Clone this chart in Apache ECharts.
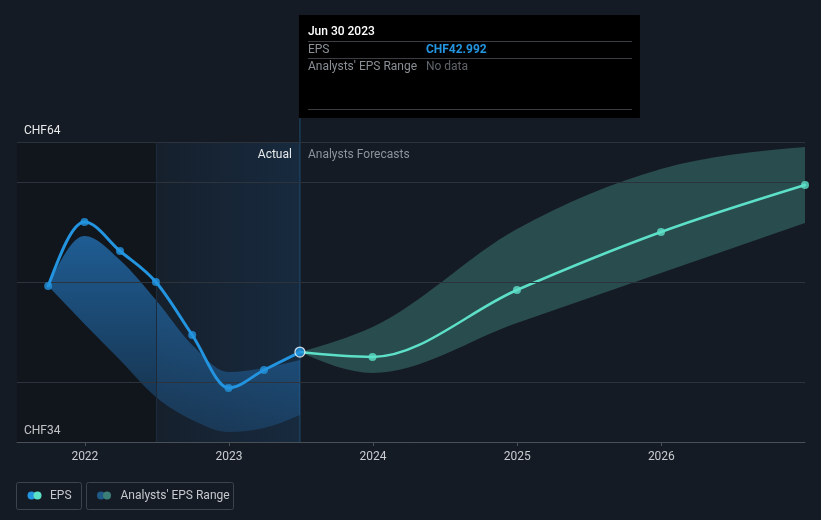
<!DOCTYPE html>
<html>
<head>
<meta charset="utf-8">
<script src="https://cdn.jsdelivr.net/npm/echarts@6/dist/echarts.min.js"></script>
<style>
html,body{margin:0;padding:0;background:#151b24;}
#c{width:821px;height:520px;}
</style>
</head>
<body>
<div id="c"></div>
<script>
// ---- data ----
const pastDates = ['2021-09-30','2021-12-31','2022-03-31','2022-06-30','2022-09-30','2022-12-31','2023-03-31','2023-06-30'];
const pastEPS   = [49.6, 56.0, 53.1, 50.0, 44.7, 39.4, 41.2, 42.992];
const pastUpper = [49.6, 54.6, 52.2, 48.2, 43.7, 41.0, 41.4, 42.2];
const pastLower = [49.6, 45.8, 42.2, 38.5, 36.2, 35.0, 35.4, 36.7];

const fcDates = ['2023-06-30','2023-12-31','2024-12-31','2025-12-31','2026-12-31'];
const fcEPS   = [42.992, 42.5, 49.2, 55.0, 59.7];
const fcUpper = [42.992, 45.5, 55.3, 61.3, 63.5];
const fcLower = [42.992, 40.9, 45.9, 50.9, 55.9];

const yearTicks = ['2022-01-01','2023-01-01','2024-01-01','2025-01-01','2026-01-01'];
const yLabelValues = [34, 64];
const yGridValues = [40, 50, 60, 64];

const axisMin = '2021-07-13';
const axisMax = '2026-12-31';
const pastStart = '2022-06-30';
const nowDate = '2023-06-30';

// ---- helpers ----
const t = s => { const p = s.split('-').map(Number); return Date.UTC(p[0], p[1]-1, p[2]); };
const pairs = (d, v) => d.map((x, i) => [t(x), v[i]]);

// monotone-x cubic segments in pixel space
function monoSegs(p) {
  const n = p.length, h = [], s = [], tg = new Array(n);
  for (let i = 0; i < n - 1; i++) { h[i] = p[i+1][0] - p[i][0]; s[i] = (p[i+1][1] - p[i][1]) / h[i]; }
  for (let i = 1; i < n - 1; i++) {
    const s0 = s[i-1], s1 = s[i], h0 = h[i-1], h1 = h[i];
    const q = (s0 * h1 + s1 * h0) / (h0 + h1);
    tg[i] = (Math.sign(s0) + Math.sign(s1)) * Math.min(Math.abs(s0), Math.abs(s1), 0.5 * Math.abs(q)) || 0;
  }
  if (n > 2) {
    tg[0] = (3 * s[0] - tg[1]) / 2;
    tg[n-1] = (3 * s[n-2] - tg[n-2]) / 2;
  } else { tg[0] = tg[n-1] = s[0]; }
  const segs = [];
  for (let i = 0; i < n - 1; i++) {
    const d = h[i] / 3;
    segs.push([[p[i][0] + d, p[i][1] + d * tg[i]], [p[i+1][0] - d, p[i+1][1] - d * tg[i+1]], p[i+1]]);
  }
  return segs;
}
function bandPath(up, lo) {
  let d = 'M' + up[0][0] + ',' + up[0][1];
  monoSegs(up).forEach(g => { d += 'C' + g[0] + ' ' + g[1] + ' ' + g[2]; });
  d += 'L' + lo[lo.length-1][0] + ',' + lo[lo.length-1][1];
  const ls = monoSegs(lo);
  for (let i = ls.length - 1; i >= 0; i--) {
    const end = i === 0 ? lo[0] : ls[i-1][2];
    d += 'C' + ls[i][1] + ' ' + ls[i][0] + ' ' + end;
  }
  return d + 'Z';
}
function linePath(pts) {
  let d = 'M' + pts[0][0] + ',' + pts[0][1];
  monoSegs(pts).forEach(g => { d += 'C' + g[0] + ' ' + g[1] + ' ' + g[2]; });
  return d;
}
function bandSeries(dates, upper, lower, fill) {
  return {
    type: 'custom', silent: true, z: 2, data: [[t(dates[0]), upper[0]]],
    renderItem: (params, api) => {
      const up = dates.map((x, i) => api.coord([t(x), upper[i]]));
      const lo = dates.map((x, i) => api.coord([t(x), lower[i]]));
      return {type: 'path', shape: {pathData: bandPath(up, lo)}, style: {fill: fill}};
    }
  };
}
function lineSeries(dates, vals, color, z, w) {
  return {
    type: 'custom', silent: true, z: z, data: [[t(dates[0]), vals[0]]],
    renderItem: (params, api) => {
      const pts = dates.map((x, i) => api.coord([t(x), vals[i]]));
      return {type: 'path', shape: {pathData: linePath(pts)},
        style: {fill: 'none', stroke: color, lineWidth: w, lineJoin: 'round', lineCap: 'round'}};
    }
  };
}

const BLUE = '#2394df', MINT = '#5de0c8';
const chart = echarts.init(document.getElementById('c'), null, {renderer: 'canvas'});

const epsPast = pairs(pastDates, pastEPS).map((d, i) => i === pastDates.length - 1
  ? {value: d, symbolSize: 10, itemStyle: {color: BLUE, borderColor: '#ffffff', borderWidth: 1.2}} : d);
const epsFc = pairs(fcDates, fcEPS).slice(1);

chart.setOption({
  animation: false,
  backgroundColor: '#151b24',
  textStyle: {fontFamily: 'Roboto'},
  grid: {left: 17, right: 16, top: 142, bottom: 78},
  xAxis: {
    type: 'value', min: t(axisMin), max: t(axisMax),
    axisLine: {show: true, lineStyle: {color: '#4a5058', width: 1}},
    axisTick: {show: true, customValues: yearTicks.map(t), length: 4, lineStyle: {color: '#4a5058'}},
    axisLabel: {customValues: yearTicks.map(t), color: '#c9ccd1', fontSize: 12, margin: 9,
      formatter: v => String(new Date(v).getUTCFullYear())},
    splitLine: {show: false}
  },
  yAxis: {
    type: 'value', min: 34, max: 64,
    axisLine: {show: false}, axisTick: {show: false}, splitLine: {show: false},
    axisLabel: {customValues: yLabelValues, inside: true, formatter: 'CHF{value}', color: '#e8eaec',
      fontSize: 12, verticalAlign: 'bottom', margin: 7, padding: [0,0,5,0]}
  },
  series: [
    {
      type: 'line', data: [], z: 0, silent: true,
      markArea: {silent: true, data: [
        [{xAxis: t(axisMin), itemStyle: {color: 'rgba(0,0,0,0.17)'}}, {xAxis: t(pastStart)}],
        [{xAxis: t(pastStart), itemStyle: {color: {type: 'linear', x: 0, y: 0, x2: 1, y2: 0,
          colorStops: [{offset: 0, color: 'rgba(35,120,200,0.05)'}, {offset: 1, color: 'rgba(35,120,200,0.16)'}]}}},
         {xAxis: t(nowDate)}]
      ]},
      markLine: {silent: true, symbol: 'none', label: {show: false},
        lineStyle: {color: '#2d333c', width: 1, type: 'solid'},
        data: yGridValues.map(v => ({yAxis: v})).concat([{xAxis: t(pastStart), lineStyle: {color: '#1d2a3a'}}])}
    },
    bandSeries(pastDates, pastUpper, pastLower, {type: 'linear', x: 0, y: 0, x2: 0, y2: 1, global: false,
      colorStops: [{offset: 0, color: 'rgba(38,130,210,0.65)'}, {offset: 1, color: 'rgba(38,130,210,0.22)'}]}),
    bandSeries(fcDates, fcUpper, fcLower, 'rgba(100,215,200,0.26)'),
    lineSeries(fcDates, fcEPS, MINT, 4, 2.5),
    lineSeries(pastDates, pastEPS, BLUE, 5, 3),
    {type: 'scatter', name: 'EPS forecast', data: epsFc, z: 6, symbol: 'circle', symbolSize: 8,
      itemStyle: {color: MINT}},
    {type: 'scatter', name: 'EPS', data: epsPast, z: 7, symbol: 'circle', symbolSize: 8,
      itemStyle: {color: BLUE}}
  ]
});

// ---- overlays placed from the axes ----
const nowX = chart.convertToPixel({xAxisIndex: 0}, t(nowDate));
const topY = chart.convertToPixel({yAxisIndex: 0}, 64);
const botY = chart.convertToPixel({yAxisIndex: 0}, 34);
const fontF = 'Roboto';
chart.setOption({
  graphic: [
    {type: 'line', shape: {x1: nowX, y1: topY - 24, x2: nowX, y2: botY}, style: {stroke: '#1f4d73', lineWidth: 1}, z: 1},
    {type: 'text', x: nowX - 8, y: topY + 13, style: {text: 'Actual', fill: '#e8eaec', font: '12px ' + fontF, align: 'right', verticalAlign: 'middle'}, z: 10},
    {type: 'text', x: nowX + 8, y: topY + 13, style: {text: 'Analysts Forecasts', fill: '#8d939a', font: '12px ' + fontF, align: 'left', verticalAlign: 'middle'}, z: 10},
    {type: 'group', x: nowX - 1, y: 15, z: 20, children: [
      {type: 'rect', shape: {x: 0, y: 0, width: 341, height: 103}, style: {fill: '#000000'}},
      {type: 'text', x: 9, y: 17, style: {text: 'Jun 30 2023', fill: '#ffffff', font: '500 12px ' + fontF, verticalAlign: 'middle'}},
      {type: 'line', shape: {x1: 9, y1: 26.5, x2: 333, y2: 26.5}, style: {stroke: '#3a3d42', lineWidth: 1}},
      {type: 'text', x: 9, y: 35, style: {text: 'EPS', fill: '#8a8f96', font: '12px ' + fontF, verticalAlign: 'middle'}},
      {type: 'text', x: 127, y: 35, style: {text: 'CHF42.992', fill: BLUE, font: 'bold 12px ' + fontF, verticalAlign: 'middle'}},
      {type: 'line', shape: {x1: 9, y1: 43.5, x2: 333, y2: 43.5}, style: {stroke: '#3a3d42', lineWidth: 1}},
      {type: 'text', x: 9, y: 52, style: {text: "Analysts' EPS Range", fill: '#8a8f96', font: '12px ' + fontF, verticalAlign: 'middle'}},
      {type: 'text', x: 127, y: 52, style: {text: 'No data', fill: '#5f636a', font: '12px ' + fontF, verticalAlign: 'middle'}},
      {type: 'line', shape: {x1: 9, y1: 94.5, x2: 333, y2: 94.5}, style: {stroke: '#3a3d42', lineWidth: 1}}
    ]},
    {type: 'group', x: 0, y: 0, z: 20, children: [
      {type: 'rect', shape: {x: 16.5, y: 482.5, width: 65, height: 27, r: 2}, style: {fill: 'transparent', stroke: '#3d434c', lineWidth: 1}},
      {type: 'circle', shape: {cx: 31.5, cy: 495.5, r: 4}, style: {fill: BLUE}},
      {type: 'circle', shape: {cx: 37.5, cy: 495.5, r: 4}, style: {fill: MINT}},
      {type: 'text', x: 50, y: 495.5, style: {text: 'EPS', fill: '#c5c9ce', font: '12px ' + fontF, verticalAlign: 'middle'}},
      {type: 'rect', shape: {x: 86.5, y: 482.5, width: 147, height: 27, r: 2}, style: {fill: 'transparent', stroke: '#3d434c', lineWidth: 1}},
      {type: 'circle', shape: {cx: 101, cy: 495.5, r: 4}, style: {fill: '#1f5a86'}},
      {type: 'circle', shape: {cx: 107, cy: 495.5, r: 4}, style: {fill: '#3b7f78'}},
      {type: 'text', x: 120.5, y: 495.5, style: {text: "Analysts' EPS Range", fill: '#c5c9ce', font: '12px ' + fontF, verticalAlign: 'middle'}}
    ]}
  ]
});
</script>
</body>
</html>
